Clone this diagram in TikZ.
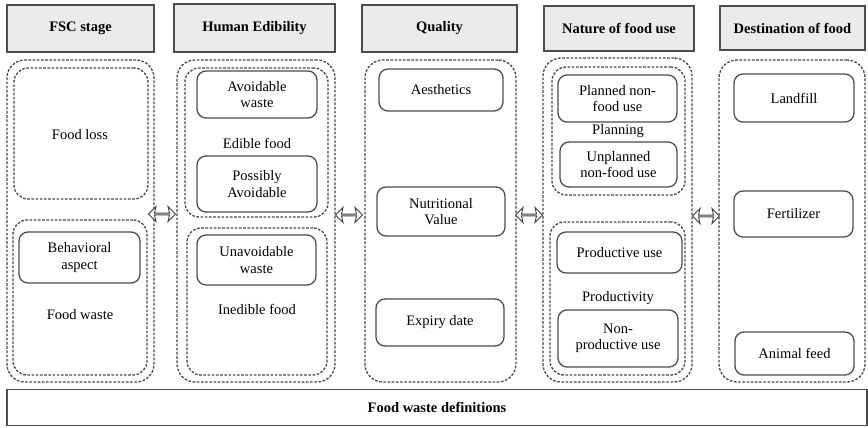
\documentclass[tikz,border=0pt]{standalone}
\usepackage{fontspec}
\setmainfont{Liberation Serif}
\usetikzlibrary{shapes.arrows}
\begin{document}
\begin{tikzpicture}[x=1pt,y=-1pt,
  every node/.style={font=\fontsize{14.5}{16.5}\selectfont, align=center, inner sep=0pt, outer sep=0pt},
  headbox/.style={draw=black!70, line width=1.3pt, fill=black!8, font=\fontsize{14.5}{16.5}\selectfont\bfseries},
  dashbox/.style={draw=black!72, line width=1.3pt, dash pattern=on 2.6pt off 1.6pt, rounded corners=18pt},
  innerdash/.style={dashbox, rounded corners=14pt},
  itembox/.style={draw=black!70, line width=1.3pt, rounded corners=9pt, fill=white},
  linkarrow/.style={double arrow, draw=black!75, line width=0.9pt, fill=white, minimum width=15pt, minimum height=27pt, double arrow head extend=3.3pt, double arrow head indent=1.5pt}
]
\useasboundingbox (0,0) rectangle (868,428);

% headers
\node[headbox, minimum width=147pt, minimum height=47pt] (h1) at (80.5,28.5) {FSC stage};
\node[headbox, minimum width=161pt, minimum height=48pt] (h2) at (254.5,28) {Human Edibility};
\node[headbox, minimum width=155pt, minimum height=47pt] (h3) at (439.5,28.5) {Quality};
\node[headbox, minimum width=150pt, minimum height=45pt] (h4) at (619,28.5) {Nature of food use};
\node[headbox, minimum width=145pt, minimum height=44pt] (h5) at (792.5,28) {Destination of food};

% outer dashed columns
\node[dashbox, minimum width=147pt, minimum height=322pt] (o1) at (80.5,221) {};
\node[dashbox, minimum width=158pt, minimum height=322pt] (o2) at (256,221) {};
\node[dashbox, minimum width=151pt, minimum height=322pt] (o3) at (440.5,221) {};
\node[dashbox, minimum width=149pt, minimum height=324pt] (o4) at (617.5,220) {};
\node[dashbox, minimum width=146pt, minimum height=322pt] (o5) at (792,221) {};

% inner dashed groups
\node[innerdash, minimum width=134pt, minimum height=131pt] (i1a) at (81,133.5) {};
\node[innerdash, minimum width=134pt, minimum height=155pt] (i1b) at (80,297.5) {};
\node[innerdash, minimum width=143pt, minimum height=149pt] (i2a) at (256.5,142.5) {};
\node[innerdash, minimum width=140pt, minimum height=147pt] (i2b) at (257,301.5) {};
\node[innerdash, minimum width=133pt, minimum height=128pt] (i4a) at (618.5,131) {};
\node[innerdash, minimum width=135pt, minimum height=153pt] (i4b) at (617.5,298.5) {};

% group labels
\node (foodloss) at (80,135) {Food loss};
\node (foodwaste) at (80,315) {Food waste};
\node (edible) at (257,143) {Edible food};
\node (inedible) at (257,309) {Inedible food};
\node (planning) at (618,131) {Planning};
\node (productivity) at (618,298) {Productivity};

% item boxes
\node[itembox, minimum width=121pt, minimum height=51pt] (behav) at (79.5,257.5) {Behavioral\\aspect};
\node[itembox, minimum width=120pt, minimum height=47pt] (avoid) at (257,94.5) {Avoidable\\waste};
\node[itembox, minimum width=120pt, minimum height=56pt] (possibly) at (257,184) {Possibly\\Avoidable};
\node[itembox, minimum width=119pt, minimum height=50pt] (unavoid) at (256.5,260) {Unavoidable\\waste};
\node[itembox, minimum width=124pt, minimum height=42pt] (aesth) at (441,90) {Aesthetics};
\node[itembox, minimum width=128pt, minimum height=49pt] (nutri) at (441,211.5) {Nutritional\\Value};
\node[itembox, minimum width=128pt, minimum height=47pt] (expiry) at (440,322.5) {Expiry date};
\node[itembox, minimum width=119pt, minimum height=47pt] (planned) at (617.5,98.5) {Planned non-\\food use};
\node[itembox, minimum width=117pt, minimum height=45pt] (unplanned) at (618.5,164.5) {Unplanned\\non-food use};
\node[itembox, minimum width=125pt, minimum height=41pt] (prod) at (619.5,252.5) {Productive use};
\node[itembox, minimum width=120pt, minimum height=57pt] (nonprod) at (618,338.5) {Non-\\productive use};
\node[itembox, minimum width=120pt, minimum height=48pt] (landfill) at (794,98) {Landfill};
\node[itembox, minimum width=119pt, minimum height=46pt] (fert) at (793.5,214) {Fertilizer};
\node[itembox, minimum width=119pt, minimum height=43pt] (animal) at (794.5,353.5) {Animal feed};

% double arrows between columns
\node[linkarrow] (a1) at (162,214) {};
\node[linkarrow] (a2) at (349,215) {};
\node[linkarrow] (a3) at (529,215) {};
\node[linkarrow] (a4) at (706,216) {};

% bottom bar
\node[draw=black!70, line width=1.3pt, minimum width=860pt, minimum height=36pt, font=\fontsize{14.5}{16.5}\selectfont\bfseries] (defs) at (437,407.5) {Food waste definitions};
\end{tikzpicture}
\end{document}
